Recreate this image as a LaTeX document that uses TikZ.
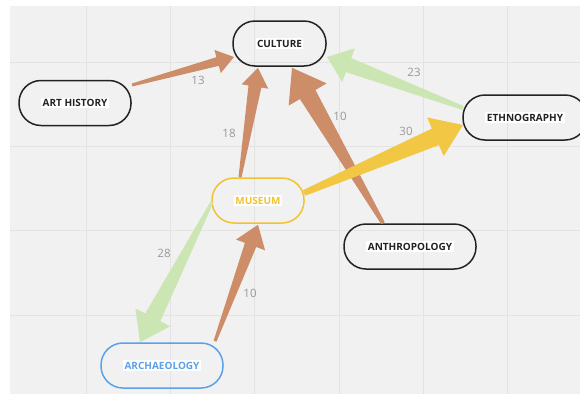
\documentclass[tikz,border=0pt]{standalone}
\usepackage{fontspec}
\setmainfont{Open Sans}
\usetikzlibrary{calc}

\definecolor{bggray}{HTML}{F1F1F1}
\definecolor{gridgray}{HTML}{E3E3E3}
\definecolor{boxblack}{HTML}{222222}
\definecolor{lblgray}{HTML}{999999}
\definecolor{brownarrow}{HTML}{CD8D69}
\definecolor{greenarrow}{HTML}{CBE6B3}
\definecolor{yellowarrow}{HTML}{F2C744}
\definecolor{museumyellow}{HTML}{F1C232}
\definecolor{archblue}{HTML}{5BA0E9}

\tikzset{
  box/.style={draw=boxblack, line width=1.5pt, rounded corners=22pt,
    minimum height=45pt, inner sep=0pt, text=boxblack,
    font=\bfseries\fontsize{10}{12}\selectfont},
  lbl/.style={text=lblgray, inner sep=0pt, font=\fontsize{11.5}{13}\selectfont}
}

% white highlight behind the box texts
\newcommand{\hl}[1]{{\setlength{\fboxsep}{1.5pt}\colorbox{white}{#1}}}

% tapered arrow: colour, tail, tip, head length, head half width,
% shaft half width at head, tail half width
\newcommand{\taper}[7]{%
  \coordinate (tb) at ($(#3)!#4!(#2)$);
  \fill[#1] ($(#2)!#7!90:(#3)$) -- ($(tb)!#6!90:(#3)$) -- ($(tb)!#5!90:(#3)$)
    -- (#3) -- ($(tb)!#5!-90:(#3)$) -- ($(tb)!#6!-90:(#3)$)
    -- ($(#2)!#7!-90:(#3)$) -- cycle;
}

\begin{document}
\begin{tikzpicture}[x=1pt, y=-1pt]
  \useasboundingbox (0,0) rectangle (580,394);
  \fill[bggray] (10,6) rectangle (580,394);

  % grid
  \foreach \gx in {86,170.3,254.6,338.9,423.2,507.5}
    \draw[gridgray, line width=0.6pt] (\gx,6) -- (\gx,394);
  \foreach \gy in {62,146.3,230.6,314.9}
    \draw[gridgray, line width=0.6pt] (10,\gy) -- (580,\gy);

  % topics
  \node [box, minimum width=112pt] (art) at (75,103) {\hl{ART HISTORY}};
  \node [box, minimum width=93pt] (culture) at (279.5,43.5) {\hl{CULTURE}};
  \node [box, minimum width=124pt] (ethno) at (525,117.5) {\hl{ETHNOGRAPHY}};
  \node [box, minimum width=92pt, draw=museumyellow, text=museumyellow]
    (museum) at (258,200.5) {\hl{MUSEUM}};
  \node [box, minimum width=132pt] (anthro) at (410,246.5) {\hl{ANTHROPOLOGY}};
  \node [box, minimum width=122pt, draw=archblue, text=archblue]
    (archae) at (162,365.5) {\hl{ARCHAEOLOGY}};

  % arrow ends
  \coordinate (artT) at ($(art.center)+(57,-18)$);
  \coordinate (culA) at ($(culture.center)+(-45.5,13.5)$);
  \coordinate (musT) at ($(museum.north)+(-18,0)$);
  \coordinate (culM) at ($(culture.south)+(-21.5,1)$);
  \coordinate (antT) at ($(anthro.north)+(-27,0)$);
  \coordinate (culN) at ($(culture.south)+(12.5,1)$);
  \coordinate (ethT) at ($(ethno.center)+(-62,-9.5)$);
  \coordinate (culE) at ($(culture.center)+(47.5,13.5)$);
  \coordinate (musE) at ($(museum.center)+(46,-7.5)$);
  \coordinate (ethM) at ($(ethno.center)+(-62,7.5)$);
  \coordinate (musW) at ($(museum.center)+(-46,1.5)$);
  \coordinate (arcM) at ($(archae.north)+(-22,0)$);
  \coordinate (arcT) at ($(archae.north)+(53,-1)$);
  \coordinate (musS) at ($(museum.south)+(0,1)$);

  % arrows
  \taper{brownarrow}{artT}{culA}{17pt}{12pt}{4.5pt}{1.5pt}
  \taper{brownarrow}{musT}{culM}{19pt}{13.5pt}{6.5pt}{1.5pt}
  \taper{brownarrow}{antT}{culN}{31pt}{22pt}{9pt}{2pt}
  \taper{greenarrow}{ethT}{culE}{23pt}{18pt}{7.5pt}{2pt}
  \taper{yellowarrow}{musE}{ethM}{30pt}{21pt}{9pt}{3pt}
  \taper{greenarrow}{musW}{arcM}{28pt}{19.5pt}{8.5pt}{1.5pt}
  \taper{brownarrow}{arcT}{musS}{21.5pt}{15.5pt}{6pt}{1.5pt}

  % weights
  \node [lbl] (w13) at (198,80) {13};
  \node [lbl] (w18) at (229,133) {18};
  \node [lbl] (w10a) at (340,116) {10};
  \node [lbl] (w23) at (414,72) {23};
  \node [lbl] (w30) at (406,131) {30};
  \node [lbl] (w28) at (164,253) {28};
  \node [lbl] (w10b) at (250,293) {10};
\end{tikzpicture}
\end{document}
